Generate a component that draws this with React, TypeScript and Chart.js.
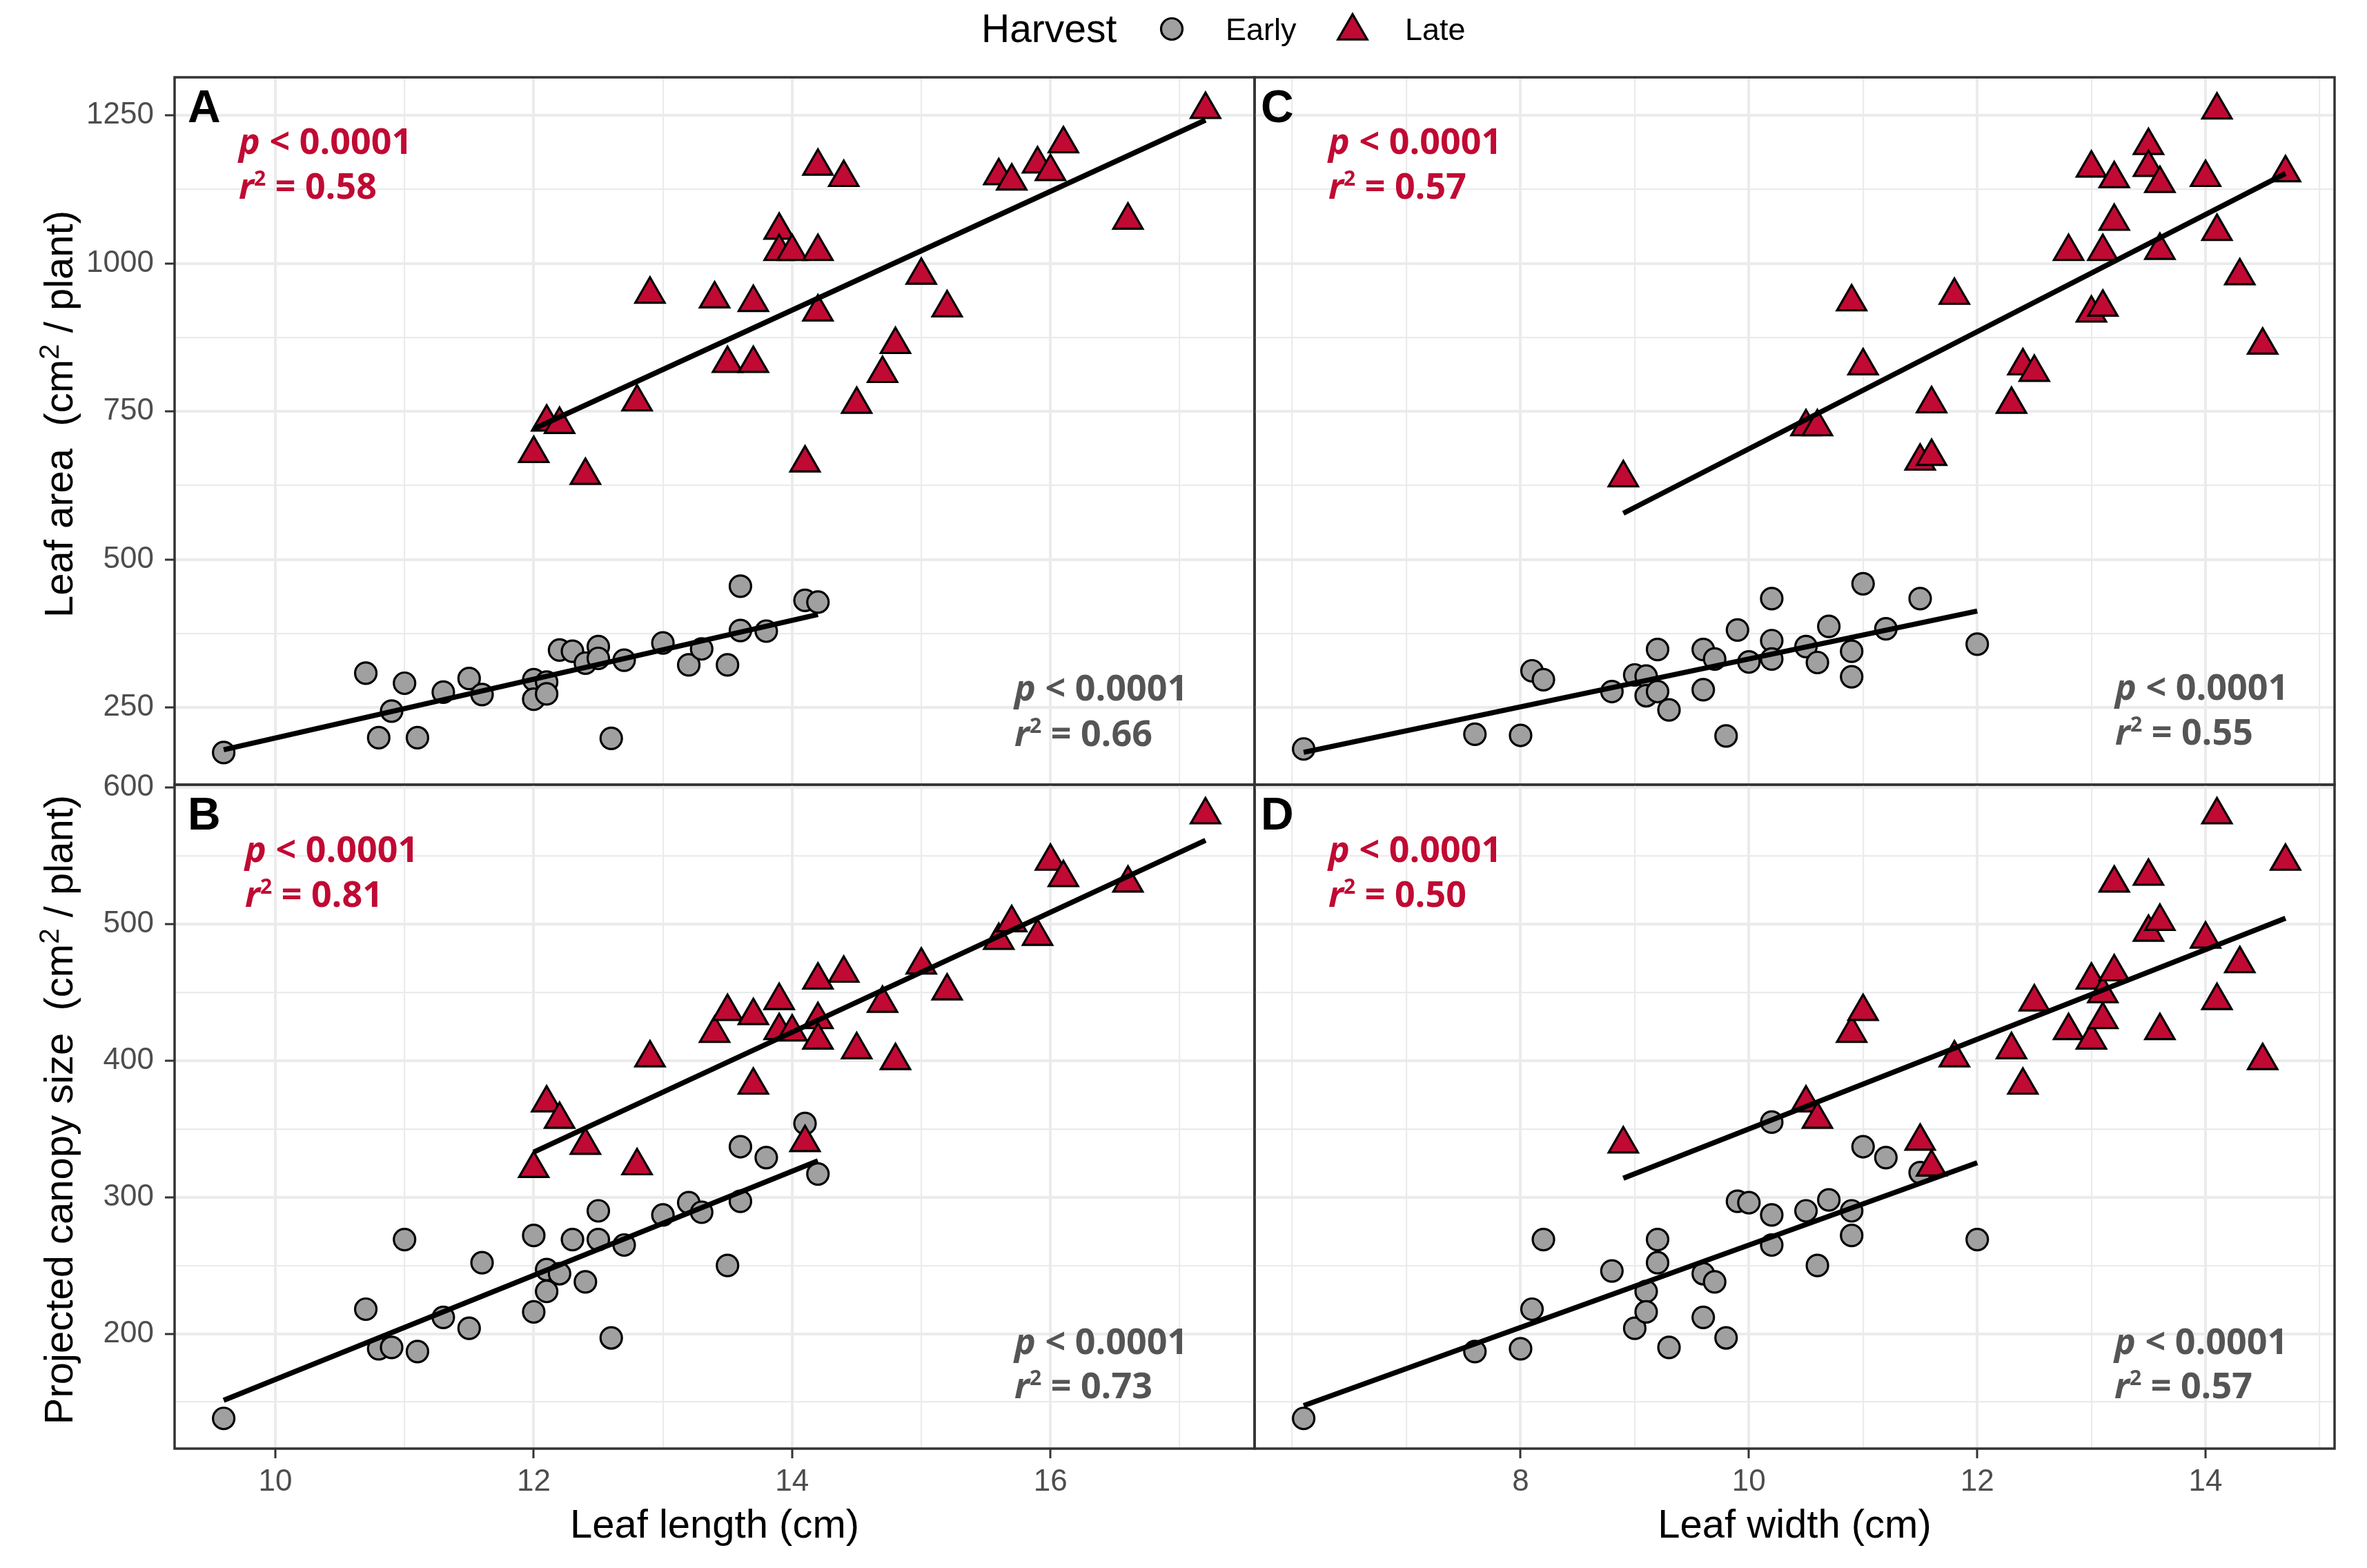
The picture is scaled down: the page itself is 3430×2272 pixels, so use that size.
import React, { useEffect, useRef } from "react";
import { Chart, registerables } from "chart.js";

Chart.register(...registerables);

// ---------------- data ----------------
// Early harvest, leaf length (cm) — shared by panels A and B
const earlyLength = [9.6, 10.7, 10.8, 10.9, 11.0, 11.1, 11.3, 11.5, 11.6, 12.0, 12.0, 12.1, 12.1, 12.2, 12.3, 12.4, 12.5, 12.5, 12.6, 12.7, 13.0, 13.2, 13.3, 13.5, 13.6, 13.6, 13.8, 14.1, 14.2];
const earlyAreaA = [174, 308, 199, 244, 291, 199, 276, 299, 272, 297, 264, 293, 273, 347, 345, 325, 353, 333, 198, 330, 359, 322, 349, 322, 455, 380, 379, 431, 428];
const earlyCanopyB = [138, 218, 189, 190, 269, 187, 212, 204, 252, 272, 216, 247, 231, 244, 269, 238, 290, 269, 197, 265, 287, 296, 289, 250, 337, 297, 329, 354, 317];

// Late harvest, leaf length (cm) — shared by panels A and B
const lateLength = [12.0, 12.1, 12.2, 12.4, 12.8, 12.9, 13.4, 13.5, 13.7, 13.7, 13.9, 13.9, 14.0, 14.1, 14.2, 14.2, 14.2, 14.4, 14.5, 14.7, 14.8, 15.0, 15.2, 15.6, 15.7, 15.9, 16.0, 16.1, 16.6, 17.2];
const lateAreaA = [679, 732, 728, 642, 766, 948, 940, 831, 831, 934, 1056, 1020, 1020, 663, 918, 1020, 1164, 1145, 762, 814, 863, 980, 925, 1148, 1139, 1168, 1155, 1202, 1073, 1260];
const lateCanopyB = [321, 369, 357, 338, 323, 402, 420, 436, 433, 382, 444, 422, 421, 340, 459, 430, 415, 464, 408, 442, 400, 470, 451, 488, 501, 491, 546, 534, 530, 580];

// Early harvest, leaf width (cm) — shared by panels C and D
const earlyWidth = [6.1, 7.6, 8.0, 8.1, 8.2, 8.8, 9.0, 9.1, 9.1, 9.2, 9.2, 9.3, 9.6, 9.6, 9.7, 9.8, 9.9, 10.0, 10.2, 10.2, 10.2, 10.5, 10.6, 10.7, 10.9, 10.9, 11.0, 11.2, 11.5, 12.0];
const earlyAreaC = [180, 205, 203, 312, 297, 277, 305, 303, 270, 348, 277, 246, 348, 280, 332, 202, 381, 327, 434, 363, 332, 353, 326, 387, 345, 302, 459, 383, 434, 357];
const earlyCanopyD = [138, 187, 189, 218, 269, 246, 204, 231, 216, 269, 252, 190, 244, 212, 238, 197, 297, 296, 355, 287, 265, 290, 250, 298, 290, 272, 337, 329, 318, 269];

// Late harvest, leaf width (cm)
const lateWidthC = [8.9, 10.5, 10.6, 10.9, 11.0, 11.5, 11.6, 11.6, 11.8, 12.3, 12.4, 12.5, 12.8, 13.0, 13.0, 13.1, 13.1, 13.2, 13.2, 13.5, 13.5, 13.6, 13.6, 14.0, 14.1, 14.1, 14.3, 14.5, 14.7];
const lateAreaC = [638, 724, 724, 935, 827, 666, 674, 763, 946, 762, 827, 816, 1020, 1161, 916, 926, 1020, 1143, 1071, 1199, 1162, 1135, 1022, 1145, 1259, 1054, 979, 862, 1153];
const lateWidthD = [8.9, 10.5, 10.6, 10.9, 11.0, 11.5, 11.6, 11.8, 12.3, 12.4, 12.5, 12.8, 13.0, 13.0, 13.1, 13.1, 13.2, 13.2, 13.5, 13.5, 13.6, 13.6, 14.0, 14.1, 14.1, 14.3, 14.5, 14.7];
const lateCanopyD = [339, 369, 357, 420, 436, 341, 322, 402, 408, 382, 443, 422, 459, 415, 430, 449, 530, 465, 535, 494, 502, 422, 489, 580, 444, 471, 400, 546];

// ticks
const lengthTicks = [10, 12, 14, 16];
const lengthMinor = [11, 13, 15, 17];
const widthTicks = [8, 10, 12, 14];
const widthMinor = [6, 7, 9, 11, 13, 15];
const areaTicks = [250, 500, 750, 1000, 1250];
const areaMinor = [375, 625, 875, 1125];
const canopyTicks = [200, 300, 400, 500, 600];
const canopyMinor = [150, 250, 350, 450, 550];

// statistics text
const panelLetters = ["A", "B", "C", "D"];
const lateP = ["0.0001", "0.0001", "0.0001", "0.0001"];
const lateR2 = ["0.58", "0.81", "0.57", "0.50"];
const earlyP = ["0.0001", "0.0001", "0.0001", "0.0001"];
const earlyR2 = ["0.66", "0.73", "0.55", "0.57"];
const legendTitle = "Harvest";
const legendLabels = ["Early", "Late"];

// ---------------- style / layout ----------------
const W = 3430;
const H = 2272;
const COLS = [253, 1818, 3383];
const ROWS = [112, 1137, 2099];
const SANS = "'Liberation Sans', Arial, Helvetica, sans-serif";
const OPEN = "'Open Sans', 'Noto Sans', sans-serif";
const CRIMSON = "#C00A33";
const GREY_FILL = "#A0A0A0";
const GREY_TEXT = "#555555";
const MARK_BORDER = 3.2;
const CIRCLE_R = 15.5;
const TRI_R = 24.5;
const FIT_W = 7.5;

type Seg = { t: string; italic?: boolean; sup?: boolean };

function drawRich(
  ctx: CanvasRenderingContext2D,
  segs: Seg[],
  x: number,
  y: number,
  size: number,
  weight: number,
  family: string,
  color: string,
  align: "left" | "center",
  supScale = 0.58,
  supRaise = 0.36
) {
  const font = (s: Seg) => `${s.italic ? "italic " : ""}${weight} ${s.sup ? size * supScale : size}px ${family}`;
  const widths = segs.map((s) => {
    ctx.font = font(s);
    return ctx.measureText(s.t).width;
  });
  const total = widths.reduce((a, b) => a + b, 0);
  let cx = align === "center" ? x - total / 2 : x;
  ctx.fillStyle = color;
  ctx.textAlign = "left";
  ctx.textBaseline = "alphabetic";
  segs.forEach((s, i) => {
    ctx.font = font(s);
    ctx.fillText(s.t, cx, s.sup ? y - size * supRaise : y);
    cx += widths[i];
  });
}

function fitLine(xs: number[], ys: number[]) {
  const n = xs.length;
  const mx = xs.reduce((a, b) => a + b, 0) / n;
  const my = ys.reduce((a, b) => a + b, 0) / n;
  let sxy = 0;
  let sxx = 0;
  for (let i = 0; i < n; i++) {
    sxy += (xs[i] - mx) * (ys[i] - my);
    sxx += (xs[i] - mx) * (xs[i] - mx);
  }
  const b = sxy / sxx;
  const a = my - b * mx;
  const lo = Math.min(...xs);
  const hi = Math.max(...xs);
  return [
    { x: lo, y: a + b * lo },
    { x: hi, y: a + b * hi },
  ];
}

function expand(...arrs: number[][]): [number, number] {
  const all = arrs.flat();
  const lo = Math.min(...all);
  const hi = Math.max(...all);
  const pad = (hi - lo) * 0.05;
  return [lo - pad, hi + pad];
}

const lengthRange = expand(earlyLength, lateLength);
const widthRange = expand(earlyWidth, lateWidthC, lateWidthD);
const areaRange = expand(earlyAreaA, lateAreaA, earlyAreaC, lateAreaC);
const canopyRange = expand(earlyCanopyB, lateCanopyB, earlyCanopyD, lateCanopyD);

interface TextPos {
  dx: number;
  dy1: number;
  dy2: number;
}

interface PanelSpec {
  idx: number;
  area: [number, number, number, number];
  earlyX: number[];
  earlyY: number[];
  lateX: number[];
  lateY: number[];
  xRange: [number, number];
  yRange: [number, number];
  xMajor: number[];
  xMinor: number[];
  yMajor: number[];
  yMinor: number[];
  showX: boolean;
  showY: boolean;
  xTitle?: string;
  yTitle?: Seg[];
  yTitleCenter?: number;
  letterDx: number;
  lateTxt: TextPos;
  earlyTxt: TextPos;
  legend?: boolean;
}

const panels: PanelSpec[] = [
  {
    idx: 0,
    area: [COLS[0], ROWS[0], COLS[1], ROWS[1]],
    earlyX: earlyLength, earlyY: earlyAreaA, lateX: lateLength, lateY: lateAreaA,
    xRange: lengthRange, yRange: areaRange,
    xMajor: lengthTicks, xMinor: lengthMinor, yMajor: areaTicks, yMinor: areaMinor,
    showX: false, showY: true,
    yTitle: [{ t: "Leaf area  (cm" }, { t: "2", sup: true }, { t: " / plant)" }],
    yTitleCenter: 600,
    letterDx: 19,
    lateTxt: { dx: 93, dy1: 111, dy2: 176 },
    earlyTxt: { dx: 1217, dy1: 903, dy2: 969 },
    legend: true,
  },
  {
    idx: 1,
    area: [COLS[0], ROWS[1], COLS[1], ROWS[2]],
    earlyX: earlyLength, earlyY: earlyCanopyB, lateX: lateLength, lateY: lateCanopyB,
    xRange: lengthRange, yRange: canopyRange,
    xMajor: lengthTicks, xMinor: lengthMinor, yMajor: canopyTicks, yMinor: canopyMinor,
    showX: true, showY: true,
    xTitle: "Leaf length (cm)",
    yTitle: [{ t: "Projected canopy size  (cm" }, { t: "2", sup: true }, { t: " / plant)" }],
    yTitleCenter: 1608,
    letterDx: 19,
    lateTxt: { dx: 102, dy1: 112, dy2: 177 },
    earlyTxt: { dx: 1217, dy1: 825, dy2: 889 },
  },
  {
    idx: 2,
    area: [COLS[1], ROWS[0], COLS[2], ROWS[1]],
    earlyX: earlyWidth, earlyY: earlyAreaC, lateX: lateWidthC, lateY: lateAreaC,
    xRange: widthRange, yRange: areaRange,
    xMajor: widthTicks, xMinor: widthMinor, yMajor: areaTicks, yMinor: areaMinor,
    showX: false, showY: false,
    letterDx: 9,
    lateTxt: { dx: 107, dy1: 111, dy2: 176 },
    earlyTxt: { dx: 1247, dy1: 902, dy2: 967 },
  },
  {
    idx: 3,
    area: [COLS[1], ROWS[1], COLS[2], ROWS[2]],
    earlyX: earlyWidth, earlyY: earlyCanopyD, lateX: lateWidthD, lateY: lateCanopyD,
    xRange: widthRange, yRange: canopyRange,
    xMajor: widthTicks, xMinor: widthMinor, yMajor: canopyTicks, yMinor: canopyMinor,
    showX: true, showY: false,
    xTitle: "Leaf width (cm)",
    letterDx: 9,
    lateTxt: { dx: 107, dy1: 112, dy2: 177 },
    earlyTxt: { dx: 1246, dy1: 825, dy2: 889 },
  },
];

function drawTriangle(ctx: CanvasRenderingContext2D, x: number, y: number, r: number) {
  ctx.beginPath();
  for (let k = 0; k < 3; k++) {
    const a = (k * 2 * Math.PI) / 3;
    const px = x + Math.sin(a) * r;
    const py = y - Math.cos(a) * r;
    if (k === 0) ctx.moveTo(px, py);
    else ctx.lineTo(px, py);
  }
  ctx.closePath();
}

function makeConfig(spec: PanelSpec): any {
  const [L, T, R, B] = spec.area;
  const axis = (major: number[], minor: number[], range: [number, number], show: boolean, isX: boolean) => ({
    type: "linear",
    min: range[0],
    max: range[1],
    afterBuildTicks: (s: any) => {
      s.ticks = [...major, ...minor].sort((a, b) => a - b).map((v) => ({ value: v }));
    },
    afterFit: (s: any) => {
      if (isX) s.height = H - B;
      else s.width = L;
    },
    border: { display: false },
    grid: {
      color: "#EBEBEB",
      lineWidth: (c: any) => (c.tick && major.includes(c.tick.value) ? 4 : 2.2),
      drawTicks: show,
      tickLength: 14,
      tickWidth: 3,
      tickColor: (c: any) => (c.tick && major.includes(c.tick.value) ? "#333333" : "rgba(0,0,0,0)"),
    },
    ticks: {
      display: show,
      autoSkip: false,
      maxRotation: 0,
      minRotation: 0,
      padding: isX ? 8 : 16,
      color: "#4D4D4D",
      font: { family: SANS, size: 44 },
      callback: (v: number) => (major.includes(v) ? String(v) : ""),
    },
    title: {
      display: isX && !!spec.xTitle,
      text: spec.xTitle || "",
      color: "#000000",
      font: { family: SANS, size: 58 },
      padding: { top: 0, bottom: 25 },
    },
  });

  const decor = {
    id: "panelDecor" + spec.idx,
    afterDatasetsDraw(chart: any) {
      const ctx: CanvasRenderingContext2D = chart.ctx;
      const ca = chart.chartArea;
      ctx.save();
      // panel border
      ctx.strokeStyle = "#333333";
      ctx.lineWidth = 3.5;
      ctx.strokeRect(ca.left, ca.top, ca.right - ca.left, ca.bottom - ca.top);
      // panel letter
      ctx.fillStyle = "#000000";
      ctx.font = `bold 66px ${SANS}`;
      ctx.textAlign = "left";
      ctx.textBaseline = "alphabetic";
      ctx.fillText(panelLetters[spec.idx], ca.left + spec.letterDx, ca.top + 65);
      // late stats
      const lt = spec.lateTxt;
      drawRich(ctx, [{ t: "p", italic: true }, { t: " < " + lateP[spec.idx] }], ca.left + lt.dx, ca.top + lt.dy1, 52, 700, OPEN, CRIMSON, "left");
      drawRich(ctx, [{ t: "r", italic: true }, { t: "2", sup: true }, { t: " = " + lateR2[spec.idx] }], ca.left + lt.dx, ca.top + lt.dy2, 52, 700, OPEN, CRIMSON, "left");
      // early stats
      const et = spec.earlyTxt;
      drawRich(ctx, [{ t: "p", italic: true }, { t: " < " + earlyP[spec.idx] }], ca.left + et.dx, ca.top + et.dy1, 52, 700, OPEN, GREY_TEXT, "left");
      drawRich(ctx, [{ t: "r", italic: true }, { t: "2", sup: true }, { t: " = " + earlyR2[spec.idx] }], ca.left + et.dx, ca.top + et.dy2, 52, 700, OPEN, GREY_TEXT, "left");
      // y title
      if (spec.yTitle && spec.yTitleCenter) {
        ctx.save();
        ctx.translate(105, spec.yTitleCenter);
        ctx.rotate(-Math.PI / 2);
        drawRich(ctx, spec.yTitle, 0, 0, 58, 400, SANS, "#000000", "center", 0.7, 0.34);
        ctx.restore();
      }
      // legend
      if (spec.legend) {
        ctx.fillStyle = "#000000";
        ctx.font = `57px ${SANS}`;
        ctx.textAlign = "left";
        ctx.textBaseline = "alphabetic";
        ctx.fillText(legendTitle, 1422, 61);
        ctx.beginPath();
        ctx.arc(1698, 42, CIRCLE_R, 0, Math.PI * 2);
        ctx.fillStyle = GREY_FILL;
        ctx.fill();
        ctx.lineWidth = MARK_BORDER;
        ctx.strokeStyle = "#000000";
        ctx.stroke();
        ctx.fillStyle = "#000000";
        ctx.font = `45px ${SANS}`;
        ctx.fillText(legendLabels[0], 1776, 58);
        drawTriangle(ctx, 1960, 45, TRI_R);
        ctx.fillStyle = CRIMSON;
        ctx.fill();
        ctx.stroke();
        ctx.fillStyle = "#000000";
        ctx.fillText(legendLabels[1], 2036, 58);
      }
      ctx.restore();
    },
  };

  return {
    type: "scatter",
    data: {
      datasets: [
        {
          type: "line",
          data: fitLine(spec.earlyX, spec.earlyY),
          borderColor: "#000000",
          borderWidth: FIT_W,
          borderCapStyle: "butt",
          pointRadius: 0,
          showLine: true,
          fill: false,
          order: 0,
        },
        {
          type: "line",
          data: fitLine(spec.lateX, spec.lateY),
          borderColor: "#000000",
          borderWidth: FIT_W,
          borderCapStyle: "butt",
          pointRadius: 0,
          showLine: true,
          fill: false,
          order: 0,
        },
        {
          type: "scatter",
          data: spec.lateX.map((x, i) => ({ x, y: spec.lateY[i] })),
          pointStyle: "triangle",
          pointRadius: TRI_R,
          backgroundColor: CRIMSON,
          borderColor: "#000000",
          borderWidth: MARK_BORDER,
          order: 1,
        },
        {
          type: "scatter",
          data: spec.earlyX.map((x, i) => ({ x, y: spec.earlyY[i] })),
          pointStyle: "circle",
          pointRadius: CIRCLE_R,
          backgroundColor: GREY_FILL,
          borderColor: "#000000",
          borderWidth: MARK_BORDER,
          order: 2,
        },
      ],
    },
    options: {
      responsive: false,
      maintainAspectRatio: false,
      animation: false,
      devicePixelRatio: 1,
      events: [],
      layout: { padding: { left: 0, top: T, right: W - R, bottom: 0 } },
      plugins: { legend: { display: false }, tooltip: { enabled: false }, title: { display: false } },
      scales: {
        x: { ...axis(spec.xMajor, spec.xMinor, spec.xRange, spec.showX, true), position: "bottom" },
        y: { ...axis(spec.yMajor, spec.yMinor, spec.yRange, spec.showY, false), position: "left" },
      },
    },
    plugins: [decor],
  };
}

function Panel({ spec }: { spec: PanelSpec }) {
  const ref = useRef<HTMLCanvasElement | null>(null);
  useEffect(() => {
    if (!ref.current) return;
    const chart = new Chart(ref.current, makeConfig(spec));
    return () => chart.destroy();
  }, [spec]);
  return (
    <canvas
      ref={ref}
      width={W}
      height={H}
      style={{ position: "absolute", left: 0, top: 0, width: W, height: H }}
    />
  );
}

export default function App() {
  return (
    <div style={{ position: "absolute", left: 0, top: 0, width: W, height: H, background: "#ffffff", overflow: "hidden" }}>
      {panels.map((p) => (
        <Panel key={p.idx} spec={p} />
      ))}
    </div>
  );
}
